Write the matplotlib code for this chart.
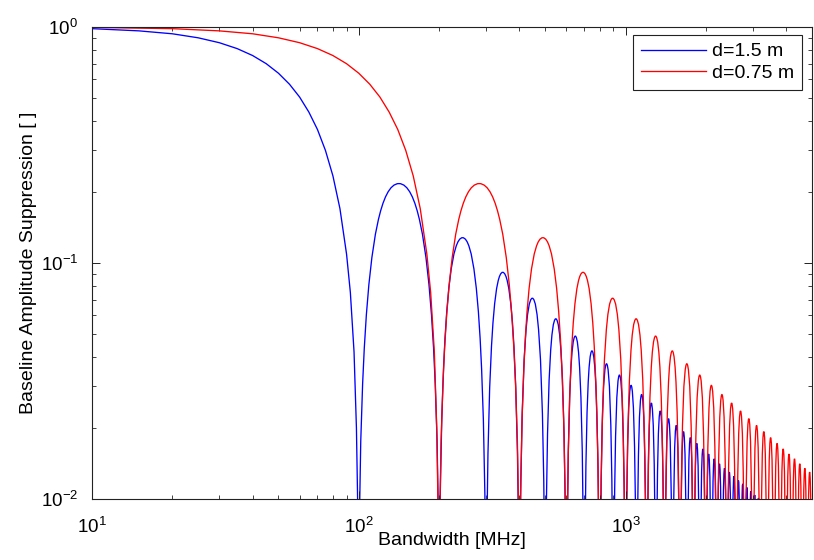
import numpy as np
import matplotlib
matplotlib.use('Agg')
import matplotlib.pyplot as plt
from matplotlib.path import Path
from matplotlib.patches import PathPatch
from matplotlib.ticker import LogLocator, LogFormatterMathtext, NullFormatter

plt.rcParams['font.family'] = ['Liberation Sans', 'DejaVu Sans']
plt.rcParams['mathtext.fontset'] = 'custom'
plt.rcParams['mathtext.rm'] = 'Liberation Sans'
plt.rcParams['mathtext.default'] = 'regular'

######################################
# data

labels = ['d=1.5 m', 'd=0.75 m']

# main lobe, d=1.5 m
freq_main_blue = [10, 15, 20, 25, 30, 35, 40, 45, 50, 55, 60, 65, 70, 75, 80, 85,
                  90, 93, 96, 98, 99, 99.5]
amp_main_blue = [0.984, 0.963, 0.936, 0.900, 0.858, 0.810, 0.757, 0.699, 0.637,
                 0.572, 0.505, 0.436, 0.368, 0.300, 0.234, 0.170, 0.109, 0.075,
                 0.042, 0.020, 0.010, 0.005]

# main lobe, d=0.75 m
freq_main_red = [10, 20, 30, 40, 50, 60, 70, 80, 90, 100, 110, 120, 130, 140, 150,
                 160, 170, 180, 186, 192, 196, 198, 199]
amp_main_red = [0.996, 0.984, 0.963, 0.936, 0.900, 0.858, 0.810, 0.757, 0.699,
                0.637, 0.572, 0.505, 0.436, 0.368, 0.300, 0.234, 0.170, 0.109,
                0.075, 0.042, 0.020, 0.010, 0.005]

# side lobes: nulls [MHz] and peak height of each lobe between two nulls
nulls_blue = [100, 200, 300, 400, 500, 600, 700, 800, 900, 1000, 1100, 1200,
              1300, 1400, 1500, 1600, 1700, 1800, 1900, 2000, 2100, 2200, 2300,
              2400, 2500, 2600, 2700, 2800, 2900, 3000, 3100, 3200, 3300]
nulls_red = [200, 400, 600, 800, 1000, 1200, 1400, 1600, 1800, 2000, 2200, 2400,
             2600, 2800, 3000, 3200, 3400, 3600, 3800, 4000, 4200, 4400, 4600,
             4800, 5000]
lobe_peaks = [0.217, 0.128, 0.0913, 0.0709, 0.0580, 0.0490, 0.0424, 0.0374,
              0.0335, 0.0303, 0.0277, 0.0255, 0.0236, 0.0219, 0.0205, 0.0193,
              0.0182, 0.0172, 0.0163, 0.0155, 0.0148, 0.0141, 0.0135, 0.0130,
              0.0125, 0.0120, 0.0116, 0.0112, 0.0108, 0.0104, 0.0101, 0.0098]


def lobe_path(nulls, peaks):
    # every side lobe is drawn as two bezier arcs (null -> peak -> null)
    verts, codes = [], []
    for k in range(len(nulls) - 1):
        xa, xb = np.log10(nulls[k]), np.log10(nulls[k + 1])
        xm = 0.5 * (xa + xb)
        ly = np.log10(peaks[k])
        pts = [(xa, ly - 2.0), (xa, ly - 1.0), (xa + 0.1 * (xm - xa), ly), (xm, ly),
               (xb - 0.1 * (xb - xm), ly), (xb, ly - 1.0), (xb, ly - 2.0)]
        verts += [(10 ** x, 10 ** y) for x, y in pts]
        codes += [Path.MOVETO] + [Path.CURVE4] * 6
    return Path(verts, codes)


fig = plt.figure(figsize=(8.14, 5.6), dpi=100)
ax = fig.add_axes([92 / 814, 61 / 560, 720 / 814, 472 / 560])

ax.set_xscale('log')
ax.set_yscale('log')

lw = 0.95
l1, = ax.plot(freq_main_blue, amp_main_blue, color='b', lw=lw, label=labels[0])
ax.add_patch(PathPatch(lobe_path(nulls_blue, lobe_peaks), fill=False,
                       edgecolor='b', lw=lw))
l2, = ax.plot(freq_main_red, amp_main_red, color='r', lw=lw, label=labels[1])
ax.add_patch(PathPatch(lobe_path(nulls_red, lobe_peaks), fill=False,
                       edgecolor='r', lw=lw))

ax.set_xlim(10, 5000)
ax.set_ylim(1e-2, 1)

ax.xaxis.set_major_locator(LogLocator(base=10))
ax.yaxis.set_major_locator(LogLocator(base=10))
ax.xaxis.set_minor_locator(LogLocator(base=10, subs=np.arange(2, 10)))
ax.yaxis.set_minor_locator(LogLocator(base=10, subs=np.arange(2, 10)))
ax.xaxis.set_major_formatter(LogFormatterMathtext())
ax.yaxis.set_major_formatter(LogFormatterMathtext())
ax.xaxis.set_minor_formatter(NullFormatter())
ax.yaxis.set_minor_formatter(NullFormatter())

ax.tick_params(which='both', direction='in', top=True, right=True,
               color='#222222', labelsize=13.5)
ax.tick_params(which='major', length=5.5, width=0.7)
ax.tick_params(which='minor', length=3, width=0.6)
ax.tick_params(axis='x', which='major', pad=13)
ax.tick_params(axis='y', which='major', pad=10)
for s in ax.spines.values():
    s.set_linewidth(0.8)
    s.set_color('#222222')

ax.set_xlabel('Bandwidth [MHz]', fontsize=14)
ax.set_ylabel('Baseline Amplitude Suppression [ ]', fontsize=14)
ax.xaxis.set_label_coords(0.5, -0.069)
ax.yaxis.set_label_coords(-0.076, 0.5)

leg = ax.legend(handles=[l1, l2], loc='upper right',
                bbox_to_anchor=(0.986, 0.983), borderaxespad=0, fontsize=14,
                handlelength=3.35, handletextpad=0.3, borderpad=0.4,
                labelspacing=0.2, fancybox=False, framealpha=1)
leg.get_frame().set_edgecolor('#222222')
leg.get_frame().set_linewidth(0.8)

fig.savefig('out.png', dpi=100)
